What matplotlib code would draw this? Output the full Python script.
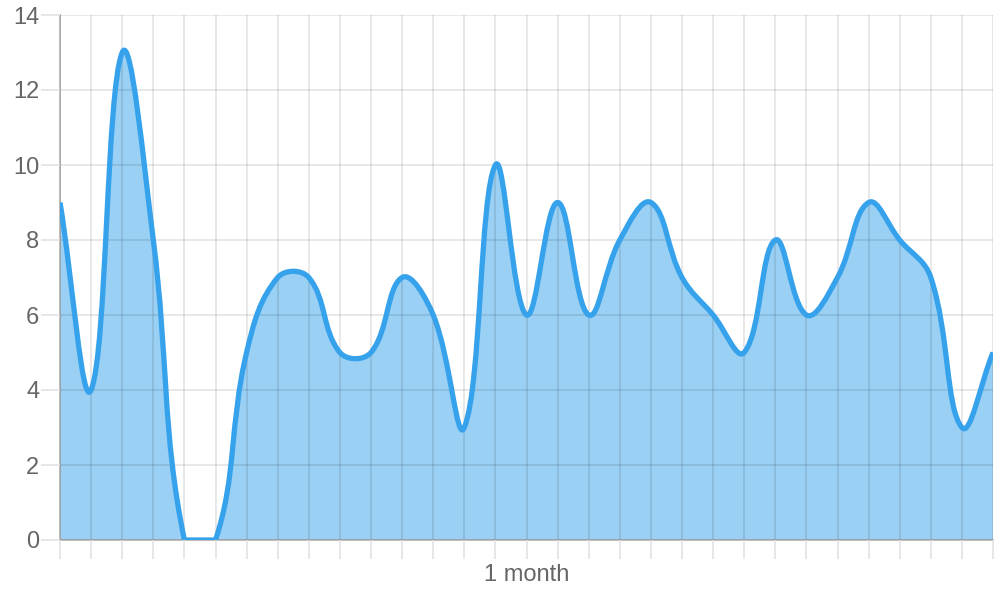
import numpy as np
import matplotlib.pyplot as plt
from matplotlib.path import Path
from matplotlib.patches import PathPatch

# one value per day
days = list(range(31))
values = [9, 4, 13, 8, 0, 0, 5, 7, 7, 5, 5, 7, 6, 3, 10, 6,
          9, 6, 8, 9, 7, 6, 5, 8, 6, 7, 9, 8, 7, 3, 5]
y_ticks = [0, 2, 4, 6, 8, 10, 12, 14]
x_label = '1 month'
x_label_day = 15

tension = 0.4
sx = 933 / 30   # pixels per day
sy = 525 / 14   # pixels per unit


def spline_verts(xs, ys):
    # bezier control points like chart.js (tension, capped to the area)
    P = np.column_stack([np.array(xs, float) * sx, np.array(ys, float) * sy])
    n = len(P)
    cp_prev, cp_next = [], []
    for i in range(n):
        prev = P[max(i - 1, 0)]
        cur = P[i]
        nxt = P[min(i + 1, n - 1)]
        d01 = np.hypot(*(cur - prev))
        d12 = np.hypot(*(nxt - cur))
        tot = d01 + d12
        s01 = d01 / tot if tot else 0
        s12 = d12 / tot if tot else 0
        a = cur - tension * s01 * (nxt - prev)
        b = cur + tension * s12 * (nxt - prev)
        lo = np.array([0, 0])
        hi = np.array([30 * sx, 14 * sy])
        cp_prev.append(np.clip(a, lo, hi))
        cp_next.append(np.clip(b, lo, hi))
    verts = [P[0]]
    codes = [Path.MOVETO]
    for i in range(n - 1):
        verts += [cp_next[i], cp_prev[i + 1], P[i + 1]]
        codes += [Path.CURVE4] * 3
    verts = np.array(verts) / np.array([sx, sy])
    return verts, codes


plt.rcParams['font.family'] = ['Liberation Sans', 'DejaVu Sans']
fig = plt.figure(figsize=(10, 6), dpi=100)
ax = fig.add_axes([0.06, 0.1, 0.933, 0.875])

verts, codes = spline_verts(days, values)
fill_verts = np.vstack([verts, [[days[-1], 0], [days[0], 0], [days[0], 0]]])
fill_codes = codes + [Path.LINETO, Path.LINETO, Path.CLOSEPOLY]
ax.add_patch(PathPatch(Path(fill_verts, fill_codes), facecolor='#36A2EB',
                       alpha=0.5, edgecolor='none', zorder=2))
ax.add_patch(PathPatch(Path(verts, codes), facecolor='none', edgecolor='#36A2EB',
                       linewidth=3.8, capstyle='butt', joinstyle='round', zorder=3))

ax.set_xlim(0, 30)
ax.set_ylim(0, 14)
ax.set_yticks(y_ticks)
ax.set_xticks(days)
ax.set_xticklabels([x_label if d == x_label_day else '' for d in days])
# grid sits over the fill, the line goes over the grid
ax.set_axisbelow(False)
ax.grid(True, color='black', alpha=0.11, linewidth=1.2)
ax.tick_params(axis='both', length=14, width=1.2, color='#e3e3e3',
               labelsize=17, labelcolor='#666666', pad=1)
ax.tick_params(axis='x', pad=3)
for s in ['top', 'right']:
    ax.spines[s].set_visible(False)
for s in ['left', 'bottom']:
    ax.spines[s].set_color('#b0b0b0')
    ax.spines[s].set_linewidth(1.2)

fig.savefig('out.png', dpi=100)
